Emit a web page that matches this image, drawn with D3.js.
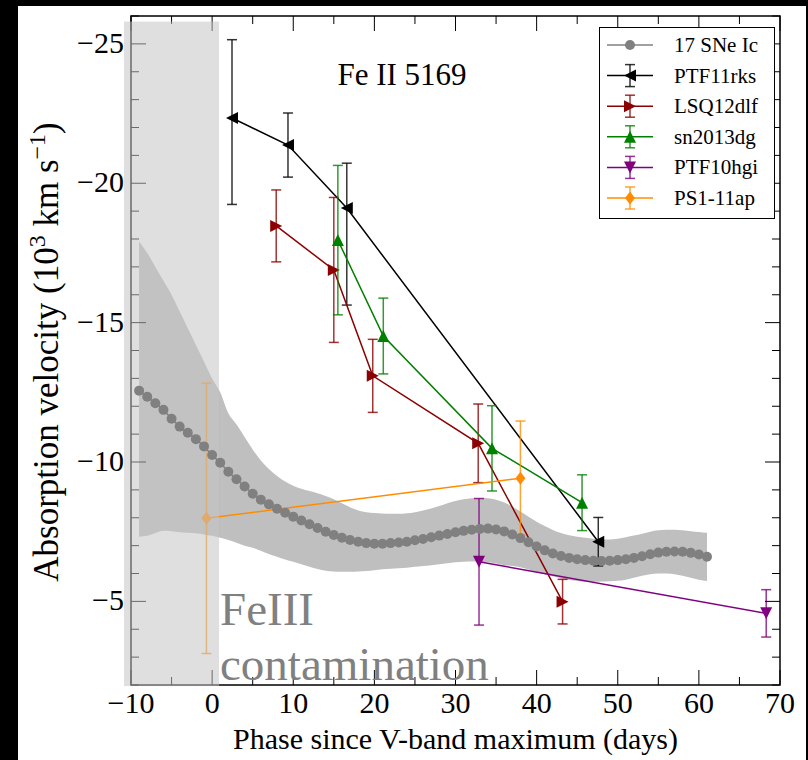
<!DOCTYPE html>
<html>
<head>
<meta charset="utf-8">
<script src="https://cdn.jsdelivr.net/npm/d3@7"></script>
<style>
  html, body { margin: 0; padding: 0; background: #000; }
  svg { display: block; }
  text { font-family: "Liberation Serif", "Times New Roman", "DejaVu Serif", serif; }
</style>
</head>
<body>
<script>
// ---- Mean Fe II 5169 velocity of 17 SNe Ic (one point per day) ----
const meanPhase = [-9,-8,-7,-6,-5,-4,-3,-2,-1,0,1,2,3,4,5,6,7,8,9,10,11,12,13,14,15,16,17,18,19,20,
  21,22,23,24,25,26,27,28,29,30,31,32,33,34,35,36,37,38,39,40,41,42,43,44,45,46,47,48,49,50,
  51,52,53,54,55,56,57,58,59,60,61];
const meanVel = [-12.56,-12.34,-12.11,-11.87,-11.55,-11.27,-11.05,-10.82,-10.56,-10.25,-9.97,-9.65,-9.38,-9.12,-8.86,-8.65,-8.48,-8.32,-8.18,-8.04,
  -7.90,-7.77,-7.63,-7.50,-7.38,-7.28,-7.20,-7.14,-7.09,-7.07,-7.07,-7.09,-7.11,-7.14,-7.19,-7.24,-7.30,-7.36,-7.42,-7.48,
  -7.53,-7.57,-7.60,-7.61,-7.58,-7.51,-7.40,-7.27,-7.12,-6.97,-6.83,-6.72,-6.63,-6.56,-6.51,-6.48,-6.46,-6.45,-6.46,-6.48,
  -6.51,-6.56,-6.62,-6.69,-6.75,-6.78,-6.79,-6.78,-6.74,-6.68,-6.60];
// one-sigma envelope (upper = faster / more negative edge)
const stdUpper = [-17.9,-17.5,-17.0,-16.5,-16.0,-15.4,-14.8,-14.2,-13.6,-13.0,-12.5,-11.75,-11.35,-10.9,-10.45,-10.05,-9.75,-9.5,-9.3,-9.15,
  -9.04,-8.96,-8.88,-8.78,-8.66,-8.52,-8.38,-8.26,-8.2,-8.17,-8.15,-8.14,-8.14,-8.16,-8.2,-8.26,-8.33,-8.42,-8.52,-8.6,
  -8.66,-8.7,-8.71,-8.7,-8.65,-8.55,-8.4,-8.22,-8.04,-7.86,-7.7,-7.56,-7.45,-7.37,-7.32,-7.28,-7.25,-7.22,-7.22,-7.25,
  -7.3,-7.36,-7.43,-7.5,-7.55,-7.57,-7.57,-7.55,-7.52,-7.49,-7.46];
const stdLower = [-7.32,-7.35,-7.45,-7.53,-7.52,-7.48,-7.46,-7.44,-7.40,-7.35,-7.28,-7.2,-7.1,-7.0,-6.92,-6.82,-6.7,-6.6,-6.5,-6.42,
  -6.33,-6.24,-6.16,-6.1,-6.07,-6.06,-6.06,-6.07,-6.09,-6.12,-6.15,-6.17,-6.19,-6.21,-6.24,-6.27,-6.3,-6.33,-6.37,-6.4,
  -6.42,-6.43,-6.42,-6.4,-6.36,-6.3,-6.27,-6.22,-6.14,-6.05,-5.97,-5.9,-5.83,-5.77,-5.73,-5.7,-5.7,-5.71,-5.72,-5.74,
  -5.78,-5.85,-5.92,-5.97,-6.0,-6.0,-5.97,-5.92,-5.85,-5.78,-5.73];

// ---- Individual objects: phase (days), velocity (1000 km/s),
//      error toward faster (more negative) and slower velocities ----
const ptf11rksPhase   = [2.45, 9.35, 16.6, 47.6];
const ptf11rksVel     = [-22.34, -21.37, -19.11, -7.14];
const ptf11rksErrFast = [2.81, 1.15, 1.61, 0.87];
const ptf11rksErrSlow = [3.1, 1.15, 3.48, 0.87];

const lsq12dlfPhase   = [7.9, 15.0, 19.8, 32.8, 43.2];
const lsq12dlfVel     = [-18.47, -16.89, -13.09, -10.67, -4.99];
const lsq12dlfErr     = [1.29, 2.6, 1.31, 1.41, 0.8];

const sn2013dgPhase   = [15.5, 21.1, 34.5, 45.6];
const sn2013dgVel     = [-17.96, -14.52, -10.49, -8.54];
const sn2013dgErr     = [2.68, 1.36, 1.53, 1.0];

const ptf10hgiPhase   = [32.9, 68.3];
const ptf10hgiVel     = [-6.42, -4.57];
const ptf10hgiErr     = [2.27, 0.85];

const ps111apPhase    = [-0.7, 38.0];
const ps111apVel      = [-7.98, -9.42];
const ps111apErr      = [4.85, 2.05];

// ---- Axes ----
const xDomain = [-10, 70];
const yDomain = [-26, -2];
const xTickValues = [-10, 0, 10, 20, 30, 40, 50, 60, 70];
const xMinorValues = [-5, 5, 15, 25, 35, 45, 55, 65];
const yTickValues = [-25, -20, -15, -10, -5];
const yMinorValues = [-26,-24,-23,-22,-21,-19,-18,-17,-16,-14,-13,-12,-11,-9,-8,-7,-6,-4,-3,-2];
const contamPhase = [-10.86, 0.85];
const contamVel = [-25.8, -1.96];

const W = 808, H = 760;
const L = 131, R = 780, T = 16, B = 685;

const x = d3.scaleLinear().domain(xDomain).range([L, R]);
const y = d3.scaleLinear().domain(yDomain).range([T, B]);

const svg = d3.select("body").append("svg").attr("width", W).attr("height", H);
svg.append("rect").attr("width", W).attr("height", H).attr("fill", "#000");
svg.append("rect").attr("x", 18).attr("y", 6).attr("width", 788).attr("height", H - 6).attr("fill", "#fff");

const plot = svg.append("g");

// spread envelope
const area = d3.area()
  .x((d, i) => x(meanPhase[i]))
  .y0((d, i) => y(stdLower[i]))
  .y1((d, i) => y(stdUpper[i]))
  .curve(d3.curveMonotoneX);
plot.append("path").datum(meanPhase).attr("d", area).attr("fill", "#bfbfbf");

// marker shapes
const s = 6;
const markers = {
  left:  `M${-s},0L${s},${-s}L${s},${s}Z`,
  right: `M${s},0L${-s},${-s}L${-s},${s}Z`,
  up:    `M0,${-s}L${s},${s}L${-s},${s}Z`,
  down:  `M0,${s}L${s},${-s}L${-s},${-s}Z`,
  diamond: `M0,-6.5L5,0L0,6.5L-5,0Z`
};

const series = [
  { name: "PTF11rks", color: "#000000", marker: "left",  phase: ptf11rksPhase, vel: ptf11rksVel, errFast: ptf11rksErrFast, errSlow: ptf11rksErrSlow },
  { name: "LSQ12dlf", color: "#8b0000", marker: "right", phase: lsq12dlfPhase, vel: lsq12dlfVel, errFast: lsq12dlfErr, errSlow: lsq12dlfErr },
  { name: "sn2013dg", color: "#008000", marker: "up",    phase: sn2013dgPhase, vel: sn2013dgVel, errFast: sn2013dgErr, errSlow: sn2013dgErr },
  { name: "PTF10hgi", color: "#800080", marker: "down",  phase: ptf10hgiPhase, vel: ptf10hgiVel, errFast: ptf10hgiErr, errSlow: ptf10hgiErr },
  { name: "PS1-11ap", color: "#ff8c00", marker: "diamond", phase: ps111apPhase, vel: ps111apVel, errFast: ps111apErr, errSlow: ps111apErr }
];

const lineGen = d3.line().x(d => x(d.p)).y(d => y(d.v));
series.forEach(sr => {
  const pts = sr.phase.map((p, i) => ({ p, v: sr.vel[i], ef: sr.errFast[i], es: sr.errSlow[i] }));
  const g = plot.append("g");
  // error bars
  pts.forEach(d => {
    const x0 = x(d.p), y1 = y(d.v - d.ef), y2 = y(d.v + d.es);
    const eg = g.append("g").attr("stroke", sr.color).attr("stroke-width", 1.5).attr("stroke-opacity", 0.8);
    eg.append("line").attr("x1", x0).attr("x2", x0).attr("y1", y1).attr("y2", y2);
    eg.append("line").attr("x1", x0 - 5).attr("x2", x0 + 5).attr("y1", y1).attr("y2", y1);
    eg.append("line").attr("x1", x0 - 5).attr("x2", x0 + 5).attr("y1", y2).attr("y2", y2);
  });
  g.append("path").datum(pts).attr("d", lineGen)
    .attr("fill", "none").attr("stroke", sr.color).attr("stroke-width", 1.5);
  g.selectAll("path.mk").data(pts).join("path").attr("class", "mk")
    .attr("d", markers[sr.marker])
    .attr("transform", d => `translate(${x(d.p)},${y(d.v)})`)
    .attr("fill", sr.color);
});

// axes frame and inward ticks
const axG = svg.append("g").attr("stroke", "#000").attr("fill", "none");
axG.append("rect").attr("x", L).attr("y", T).attr("width", R - L).attr("height", B - T).attr("stroke-width", 1.5);
function ticks(vals, len, horiz) {
  vals.forEach(v => {
    if (horiz) {
      const px = x(v);
      axG.append("line").attr("x1", px).attr("x2", px).attr("y1", B).attr("y2", B - len).attr("stroke-width", 1);
      axG.append("line").attr("x1", px).attr("x2", px).attr("y1", T).attr("y2", T + len).attr("stroke-width", 1);
    } else {
      const py = y(v);
      axG.append("line").attr("y1", py).attr("y2", py).attr("x1", L).attr("x2", L + len).attr("stroke-width", 1);
      axG.append("line").attr("y1", py).attr("y2", py).attr("x1", R).attr("x2", R - len).attr("stroke-width", 1);
    }
  });
}
ticks(xTickValues, 15, true);
ticks(xMinorValues, 8, true);
ticks(yTickValues, 15, false);
ticks(yMinorValues, 8, false);

// tick labels
const fmt = v => (v < 0 ? "\u2212" + Math.abs(v) : String(v));
svg.append("g").selectAll("text").data(xTickValues).join("text")
  .attr("x", d => x(d)).attr("y", 713).attr("text-anchor", "middle")
  .attr("font-size", 30).attr("fill", "#000").text(fmt);
svg.append("g").selectAll("text").data(yTickValues).join("text")
  .attr("x", 124).attr("y", d => y(d) + 9).attr("text-anchor", "end")
  .attr("font-size", 30).attr("fill", "#000").text(fmt);

// contamination window, laid over the early-phase region
svg.append("rect")
  .attr("x", x(contamPhase[0])).attr("y", y(contamVel[0]))
  .attr("width", x(contamPhase[1]) - x(contamPhase[0]))
  .attr("height", y(contamVel[1]) - y(contamVel[0]))
  .attr("fill", "rgb(196,196,196)").attr("fill-opacity", 0.54);

// mean curve on top
const meanData = meanPhase.map((p, i) => [p, meanVel[i]]);
svg.append("path").datum(meanData)
  .attr("d", d3.line().x(d => x(d[0])).y(d => y(d[1])))
  .attr("fill", "none").attr("stroke", "#808080").attr("stroke-width", 1.5);
svg.append("g").selectAll("circle").data(meanData).join("circle")
  .attr("cx", d => x(d[0])).attr("cy", d => y(d[1]))
  .attr("r", 5).attr("fill", "#808080");

svg.append("text").attr("x", 220).attr("y", 625).attr("font-size", 47).attr("fill", "#808080").text("FeIII");
svg.append("text").attr("x", 220).attr("y", 680).attr("font-size", 47).attr("fill", "#808080").text("contamination");

// title
svg.append("text").attr("x", 402).attr("y", 85).attr("text-anchor", "middle")
  .attr("font-size", 31).attr("fill", "#000").text("Fe II 5169");

// axis labels
svg.append("text").attr("x", (L + R) / 2).attr("y", 749).attr("text-anchor", "middle")
  .attr("font-size", 30).attr("fill", "#000").text("Phase since V-band maximum (days)");
const yl = svg.append("text").attr("transform", "translate(58,352) rotate(-90)")
  .attr("text-anchor", "middle").attr("font-size", 35).attr("fill", "#000");
yl.append("tspan").text("Absorption velocity (10");
yl.append("tspan").attr("font-size", 24).attr("dy", -13).text("3");
yl.append("tspan").attr("dy", 13).text(" km s");
yl.append("tspan").attr("font-size", 24).attr("dy", -13).text("\u22121");
yl.append("tspan").attr("dy", 13).text(")");

// legend
const lg = svg.append("g");
lg.append("rect").attr("x", 599.5).attr("y", 27.5).attr("width", 175).attr("height", 191)
  .attr("fill", "#fff").attr("stroke", "#000").attr("stroke-width", 1);
const legendItems = [{ name: "17 SNe Ic", color: "#808080", marker: "dot" }].concat(series);
const rowY0 = 45, rowStep = 30.6;
legendItems.forEach((it, i) => {
  const cy = rowY0 + i * rowStep;
  const g = lg.append("g");
  g.append("line").attr("x1", 607).attr("x2", 653).attr("y1", cy).attr("y2", cy)
    .attr("stroke", it.color).attr("stroke-width", 1.5);
  if (it.marker === "dot") {
    g.append("circle").attr("cx", 630).attr("cy", cy).attr("r", 5).attr("fill", it.color);
  } else {
    const eg = g.append("g").attr("stroke", it.color).attr("stroke-width", 1.5).attr("stroke-opacity", 0.8);
    eg.append("line").attr("x1", 630).attr("x2", 630).attr("y1", cy - 11).attr("y2", cy + 11);
    eg.append("line").attr("x1", 625).attr("x2", 635).attr("y1", cy - 11).attr("y2", cy - 11);
    eg.append("line").attr("x1", 625).attr("x2", 635).attr("y1", cy + 11).attr("y2", cy + 11);
    g.append("path").attr("d", markers[it.marker]).attr("transform", `translate(630,${cy})`).attr("fill", it.color);
  }
  g.append("text").attr("x", 674).attr("y", cy + 7).attr("font-size", 21).attr("fill", "#000").text(it.name);
});
</script>
</body>
</html>
